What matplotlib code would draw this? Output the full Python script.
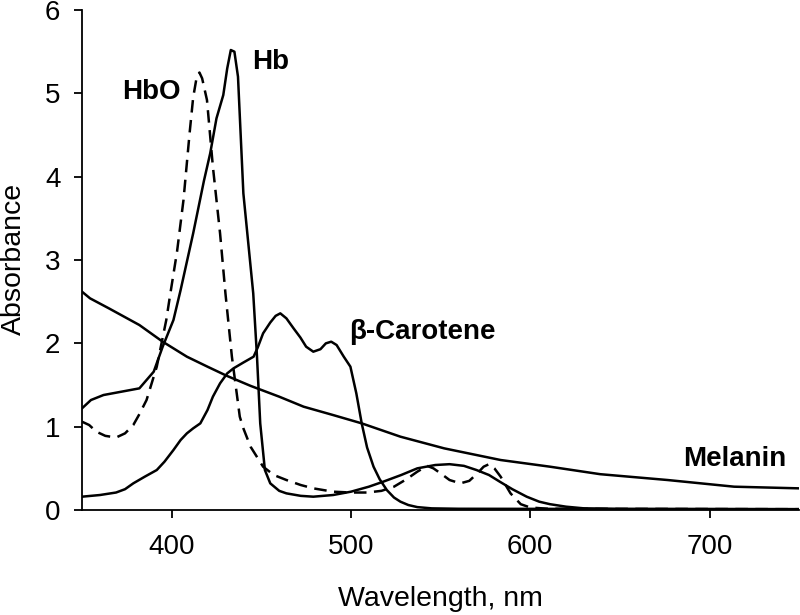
import matplotlib
matplotlib.use("Agg")
import matplotlib.pyplot as plt

plt.rcParams['font.family'] = ['Liberation Sans', 'DejaVu Sans']

hb_nm = [350, 355, 362, 372, 382, 390, 395, 401, 405, 412, 418, 421.5, 425, 428.8, 431, 433, 435, 437, 440, 445.5,
         447.6, 449.4, 452, 455, 460, 464, 472, 479, 490, 500, 510, 518, 528, 537, 547, 555, 563, 570, 577, 583,
         590, 598, 605, 611, 620, 630, 650, 750]
hb_abs = [1.22, 1.32, 1.38, 1.42, 1.46, 1.66, 1.96, 2.28, 2.64, 3.32, 3.95, 4.28, 4.7, 4.98, 5.3, 5.52, 5.5, 5.2, 3.8, 2.6,
          1.84, 1.04, 0.48, 0.32, 0.23, 0.2, 0.17, 0.16, 0.18, 0.22, 0.28, 0.34, 0.42, 0.5, 0.54, 0.55, 0.53, 0.48, 0.42, 0.34,
          0.25, 0.16, 0.1, 0.07, 0.04, 0.02, 0.012, 0.01]

hbo_nm = [350, 354, 358, 363, 369, 374, 378.6, 382, 386, 391.7, 397, 399, 403, 406.6, 410, 412, 414, 415.5, 417, 419.7,
          423, 427, 430, 433.6, 438, 440, 444, 451, 457, 464, 472, 479, 490, 500, 509, 517, 524, 531, 537, 542.5,
          546, 550, 555, 561, 566, 570.5, 574, 577, 580, 583.5, 589, 594.7, 600, 610, 750]
hbo_abs = [1.06, 1.02, 0.94, 0.89, 0.87, 0.92, 1.02, 1.15, 1.32, 1.72, 2.28, 2.56, 3.1, 3.72, 4.52, 4.95, 5.2, 5.25, 5.18, 4.92,
           4.12, 3.32, 2.6, 1.84, 1.12, 0.98, 0.76, 0.52, 0.42, 0.36, 0.3, 0.26, 0.22, 0.21, 0.21, 0.23, 0.28, 0.37, 0.46, 0.53,
           0.5, 0.44, 0.36, 0.32, 0.35, 0.44, 0.52, 0.55, 0.5, 0.4, 0.2, 0.07, 0.03, 0.015, 0.01]

car_nm = [350, 360, 369, 374, 378.6, 385, 391.7, 396, 401, 405, 408.5, 412, 416, 420, 423, 427, 431, 434.5, 440, 445.7,
          448, 451, 455, 458, 460.6, 464, 468, 471.8, 475, 479, 483, 486, 489, 492, 496, 499.7, 503, 506, 509, 512.6,
          516, 520, 524, 527.6, 532, 537, 545, 560, 750]
car_abs = [0.16, 0.18, 0.21, 0.25, 0.32, 0.4, 0.48, 0.58, 0.72, 0.84, 0.92, 0.98, 1.04, 1.2, 1.36, 1.52, 1.64, 1.7, 1.77, 1.84,
           1.95, 2.12, 2.25, 2.33, 2.36, 2.3, 2.18, 2.07, 1.96, 1.9, 1.93, 2.0, 2.02, 1.98, 1.84, 1.72, 1.4, 1.04, 0.75, 0.52,
           0.37, 0.24, 0.15, 0.1, 0.06, 0.035, 0.02, 0.015, 0.01]

mel_nm = [350, 354.5, 365, 382, 395, 408.5, 420, 430.8, 444, 460, 473.6, 490, 506, 527.6, 552, 583.5, 611, 639, 676.6, 713.7, 750]
mel_abs = [2.62, 2.54, 2.42, 2.22, 2.02, 1.84, 1.72, 1.61, 1.49, 1.36, 1.24, 1.14, 1.04, 0.88, 0.74, 0.6, 0.52, 0.43, 0.36, 0.28, 0.26]

x_ticks = [400, 500, 600, 700]
y_ticks = [0, 1, 2, 3, 4, 5, 6]

fig = plt.figure(figsize=(8, 6.15), dpi=100)
ax = fig.add_axes([0.1025, 0.1707, 0.8965, 0.813])

lw = 1.8
ax.plot(mel_nm, mel_abs, color='black', lw=lw)
ax.plot(car_nm, car_abs, color='black', lw=lw)
ax.plot(hb_nm, hb_abs, color='black', lw=lw)
ax.plot(hbo_nm, hbo_abs, color='black', lw=lw, linestyle=(0, (5, 3)))

ax.set_xlim(350, 750)
ax.set_ylim(0, 6)
ax.set_xticks(x_ticks)
ax.set_yticks(y_ticks)
ax.spines['top'].set_visible(False)
ax.spines['right'].set_visible(False)
for s in ['left', 'bottom']:
    ax.spines[s].set_linewidth(1.3)
ax.tick_params(direction='out', length=5.5, width=1.3, labelsize=20)
ax.tick_params(axis='x', pad=12)
ax.tick_params(axis='y', pad=10)

ax.set_xlabel('Wavelength, nm', fontsize=20.5)
ax.set_ylabel('Absorbance', fontsize=20.5)
ax.xaxis.set_label_coords(0.5, -0.152)
ax.yaxis.set_label_coords(-0.077, 0.502)

kw = dict(fontsize=20, fontweight='bold', ha='center', va='center')
ax.text(388.5, 5.02, 'HbO', **kw)
ax.text(455.3, 5.38, 'Hb', **kw)
ax.text(539.8, 2.14, 'β-Carotene', **kw)
ax.text(714, 0.61, 'Melanin', **kw)

fig.savefig('out.png', dpi=100)
